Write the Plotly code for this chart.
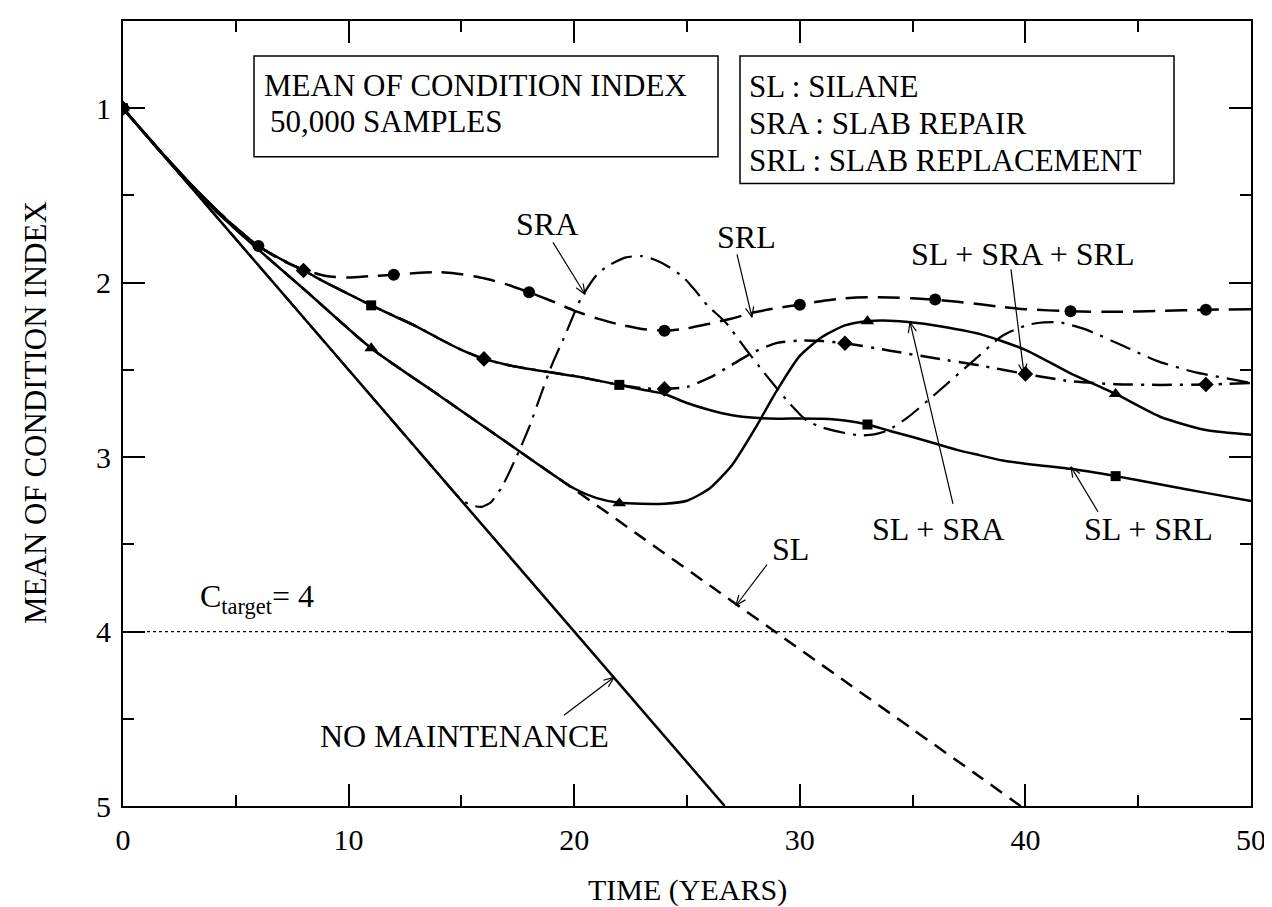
import math
import plotly.graph_objects as go

# ---------------- data ----------------
nomaint_t = [0, 10, 20, 26.67]
nomaint_y = [1.0, 2.5, 4.0, 5.0]

sl_t = [0, 2, 4, 6, 8, 11, 14, 17, 20, 23, 26, 29, 32, 35, 38, 40]
sl_y = [1.0, 1.30, 1.575, 1.81, 2.035, 2.376, 2.645, 2.915, 3.185, 3.46, 3.735,
        4.01, 4.285, 4.56, 4.835, 5.02]

sra_t = [0, 5, 10, 14, 15, 15.5, 15.9, 16.3, 16.8, 17.4, 18, 18.5, 19, 19.6, 20.3,
         21, 21.5, 22.3, 23, 23.6, 24.2, 24.85, 25.4, 25.9, 26.7, 27.6, 28.4, 29.5,
         30.3, 31, 32, 32.7, 33.3, 33.9, 34.8, 36.1, 37.7, 39, 40.1, 40.8, 41.5,
         42.6, 44.3, 45.8, 47.5, 49.4, 50]
sra_y = [1.0, 1.75, 2.5, 3.1, 3.245, 3.278, 3.285, 3.26, 3.17, 3.01, 2.83, 2.65,
         2.475, 2.3, 2.09, 1.955, 1.903, 1.855, 1.848, 1.87, 1.91, 1.97, 2.05, 2.13,
         2.226, 2.38, 2.513, 2.685, 2.79, 2.83, 2.862, 2.876, 2.87, 2.847, 2.771,
         2.628, 2.447, 2.303, 2.242, 2.228, 2.227, 2.265, 2.36, 2.447, 2.513, 2.56,
         2.575]

srl_t = [0, 1, 2, 3, 4, 5, 6, 7, 8, 9, 10, 11, 12, 13, 14, 15, 16, 17, 18, 19, 20,
         21, 22, 23, 24, 25, 26, 27, 28, 29, 30, 31, 32, 33, 34, 35, 36, 37, 38, 39,
         40, 42, 44, 46, 48, 50]
srl_y = [1.0, 1.15, 1.295, 1.435, 1.565, 1.685, 1.79, 1.87, 1.925, 1.962, 1.97,
         1.962, 1.955, 1.945, 1.94, 1.952, 1.975, 2.01, 2.055, 2.105, 2.16, 2.205,
         2.24, 2.265, 2.275, 2.262, 2.235, 2.205, 2.17, 2.145, 2.126, 2.105, 2.09,
         2.084, 2.085, 2.09, 2.097, 2.11, 2.124, 2.14, 2.152, 2.164, 2.167, 2.162,
         2.155, 2.152]

sl_sra_t = [0, 2, 4, 6, 8, 11, 14, 17, 19, 20, 21, 22, 23, 24, 25, 26, 27, 28, 29,
            30, 31, 32, 33, 34, 35, 36, 38, 40, 42, 44, 46, 48, 50]
sl_sra_y = [1.0, 1.30, 1.575, 1.81, 2.035, 2.376, 2.645, 2.915, 3.095, 3.18, 3.235,
            3.262, 3.268, 3.267, 3.25, 3.18, 3.045, 2.84, 2.615, 2.42, 2.31, 2.245,
            2.221, 2.218, 2.228, 2.245, 2.295, 2.385, 2.52, 2.638, 2.77, 2.845, 2.872]

sl_srl_t = [0, 1, 2, 3, 4, 5, 6, 7, 8, 9, 10, 11, 12, 13, 14, 15, 16, 17, 18, 19,
            20, 21, 22, 23, 24, 25, 26, 27, 28, 29, 30, 31, 32, 33, 34, 35, 36, 37,
            38, 39, 40, 42, 44, 46, 48, 50]
sl_srl_y = [1.0, 1.15, 1.295, 1.435, 1.565, 1.685, 1.79, 1.865, 1.93, 2.0, 2.065,
            2.13, 2.19, 2.25, 2.32, 2.385, 2.437, 2.47, 2.495, 2.515, 2.535, 2.56,
            2.586, 2.612, 2.638, 2.69, 2.73, 2.76, 2.775, 2.78, 2.778, 2.78, 2.79,
            2.813, 2.85, 2.885, 2.922, 2.96, 2.99, 3.02, 3.038, 3.067, 3.109, 3.157,
            3.205, 3.252]

all3_t = [0, 1, 2, 3, 4, 5, 6, 7, 8, 9, 10, 11, 12, 13, 14, 15, 16, 17, 18, 19,
          20, 21, 22, 23, 24, 25, 26, 27, 28, 29, 30, 31, 32, 34, 36, 38, 40, 42,
          44, 46, 48, 50]
all3_y = [1.0, 1.15, 1.295, 1.435, 1.565, 1.685, 1.79, 1.865, 1.93, 2.0, 2.065,
          2.13, 2.19, 2.25, 2.32, 2.385, 2.437, 2.47, 2.495, 2.515, 2.535, 2.56,
          2.586, 2.605, 2.609, 2.598, 2.545, 2.47, 2.395, 2.345, 2.332, 2.335, 2.347,
          2.39, 2.433, 2.475, 2.523, 2.565, 2.582, 2.586, 2.584, 2.575]

# markers
srl_mx = [0, 6, 12, 18, 24, 30, 36, 42, 48]
srl_my = [1.0, 1.79, 1.955, 2.055, 2.275, 2.126, 2.097, 2.164, 2.155]
all3_mx = [0, 8, 16, 24, 32, 40, 48]
all3_my = [1.0, 1.93, 2.437, 2.609, 2.347, 2.523, 2.584]
sl_srl_mx = [0, 11, 22, 33, 44]
sl_srl_my = [1.0, 2.13, 2.586, 2.813, 3.109]
sl_sra_mx = [0, 11, 22, 33, 44]
sl_sra_my = [1.0, 2.376, 3.265, 2.221, 2.638]

target_t = [0, 50]
target_y = [4, 4]

x_ticks = [0, 10, 20, 30, 40, 50]
y_ticks = [1, 2, 3, 4, 5]

FONT = "Liberation Serif"
BLACK = "black"

# ---------------- figure ----------------
fig = go.Figure()

def line(t, y, dash="solid", width=2.5, shape="spline"):
    fig.add_trace(go.Scatter(x=t, y=y, mode="lines", hoverinfo="skip",
                             line=dict(color=BLACK, width=width, dash=dash,
                                       shape=shape, smoothing=0.6)))

def marks(t, y, symbol, size):
    fig.add_trace(go.Scatter(x=t, y=y, mode="markers", hoverinfo="skip",
                             marker=dict(color=BLACK, symbol=symbol, size=size,
                                         line=dict(width=0))))

line(target_t, target_y, dash="dot", width=1.2, shape="linear")
line(nomaint_t, nomaint_y, shape="linear")
line(sl_t, sl_y, dash="14px,9px")
line(sra_t, sra_y, dash="22px,8px,3px,8px", width=2.2)
line(srl_t, srl_y, dash="22px,10px")
line(sl_sra_t, sl_sra_y)
line(sl_srl_t, sl_srl_y)
line(all3_t, all3_y, dash="20px,8px,3px,8px", width=2.5)

marks(srl_mx, srl_my, "circle", 12)
marks(all3_mx, all3_my, "diamond", 12)
marks(sl_srl_mx, sl_srl_my, "square", 10)
marks(sl_sra_mx, sl_sra_my, "triangle-up", 12)

# ---------------- layout geometry (pixels) ----------------
W, H = 1272, 907
L, R, T, B = 115, 1243, 11, 798

def P(px, py):
    return (px - L) / (R - L), (B - py) / (B - T)

shapes = []

def box(x0, y0, x1, y1):
    a, b = P(x0, y0)
    c, d = P(x1, y1)
    shapes.append(dict(type="rect", xref="paper", yref="paper", x0=a, y0=b,
                       x1=c, y1=d, line=dict(color=BLACK, width=1.5),
                       fillcolor="white", layer="above"))

def arrow(tx, ty, hx, hy, head=11, ang=22):
    a, b = P(tx, ty)
    c, d = P(hx, hy)
    shapes.append(dict(type="line", xref="paper", yref="paper", x0=a, y0=b,
                       x1=c, y1=d, line=dict(color=BLACK, width=1.2)))
    th = math.atan2(ty - hy, tx - hx)
    for s in (-1, 1):
        e = th + s * math.radians(ang)
        px, py = hx + head * math.cos(e), hy + head * math.sin(e)
        u, v = P(px, py)
        shapes.append(dict(type="line", xref="paper", yref="paper", x0=c, y0=d,
                           x1=u, y1=v, line=dict(color=BLACK, width=1.2)))

box(246, 46, 710, 147)
box(732, 46, 1166, 174)

arrow(545, 233, 577, 285)     # SRA
arrow(729, 245, 744, 308)     # SRL
arrow(1003, 260, 1016, 365)   # SL+SRA+SRL
arrow(945, 495, 902, 313)     # SL+SRA
arrow(1090, 503, 1063, 458)   # SL+SRL
arrow(759, 556, 728, 597)     # SL
arrow(556, 707, 606, 669)     # NO MAINTENANCE

annots = []

def text(s, px, py, size=32, xa="center", ya="middle", angle=0, pad=1):
    x, y = P(px, py)
    annots.append(dict(text=s, x=x, y=y, xref="paper", yref="paper",
                       xanchor=xa, yanchor=ya, showarrow=False, textangle=angle,
                       borderpad=pad,
                       font=dict(family=FONT, size=size, color=BLACK)))

BS = 31
text("MEAN OF CONDITION INDEX", 255, 76, BS, xa="left", pad=0)
text("50,000 SAMPLES", 261, 112, BS, xa="left", pad=0)
text("SL : SILANE", 740, 77, BS, xa="left", pad=0)
text("SRA : SLAB REPAIR", 740, 114, BS, xa="left", pad=0)
text("SRL : SLAB REPLACEMENT", 740, 151, BS, xa="left", pad=0)

text("SRA", 539, 215)
text("SRL", 738, 228)
text("SL + SRA + SRL", 1014, 245)
text("SL + SRA", 930, 520)
text("SL + SRL", 1140, 520)
text("SL", 782, 540)
text("C<sub>target</sub>= 4", 190, 590, xa="left")
text("NO MAINTENANCE", 456, 728)

text("TIME (YEARS)", 679, 882, size=30)
text("MEAN OF CONDITION INDEX", 27, 404, size=31, angle=-90)

axis_common = dict(showline=True, linecolor=BLACK, linewidth=2, mirror="ticks",
                   ticks="inside", ticklen=22, tickwidth=1.5, tickcolor=BLACK,
                   showgrid=False, zeroline=False,
                   tickfont=dict(family=FONT, size=30, color=BLACK))

fig.update_layout(
    width=W, height=H,
    margin=dict(l=L, r=W - R, t=T, b=H - B),
    paper_bgcolor="white", plot_bgcolor="white",
    showlegend=False,
    xaxis=dict(range=[0, 50], tickvals=x_ticks, ticktext=[str(v) for v in x_ticks],
               minor=dict(ticks="inside", ticklen=11, tickwidth=1.5, dtick=5,
                          tickcolor=BLACK, showgrid=False),
               ticklabelstandoff=6, **axis_common),
    yaxis=dict(range=[5, 0.5], tickvals=y_ticks, ticktext=[str(v) for v in y_ticks],
               minor=dict(ticks="inside", ticklen=11, tickwidth=1.5, dtick=0.5,
                          tickcolor=BLACK, showgrid=False),
               ticklabelstandoff=4, **axis_common),
    shapes=shapes,
    annotations=annots,
)

fig.write_html("out.html")
